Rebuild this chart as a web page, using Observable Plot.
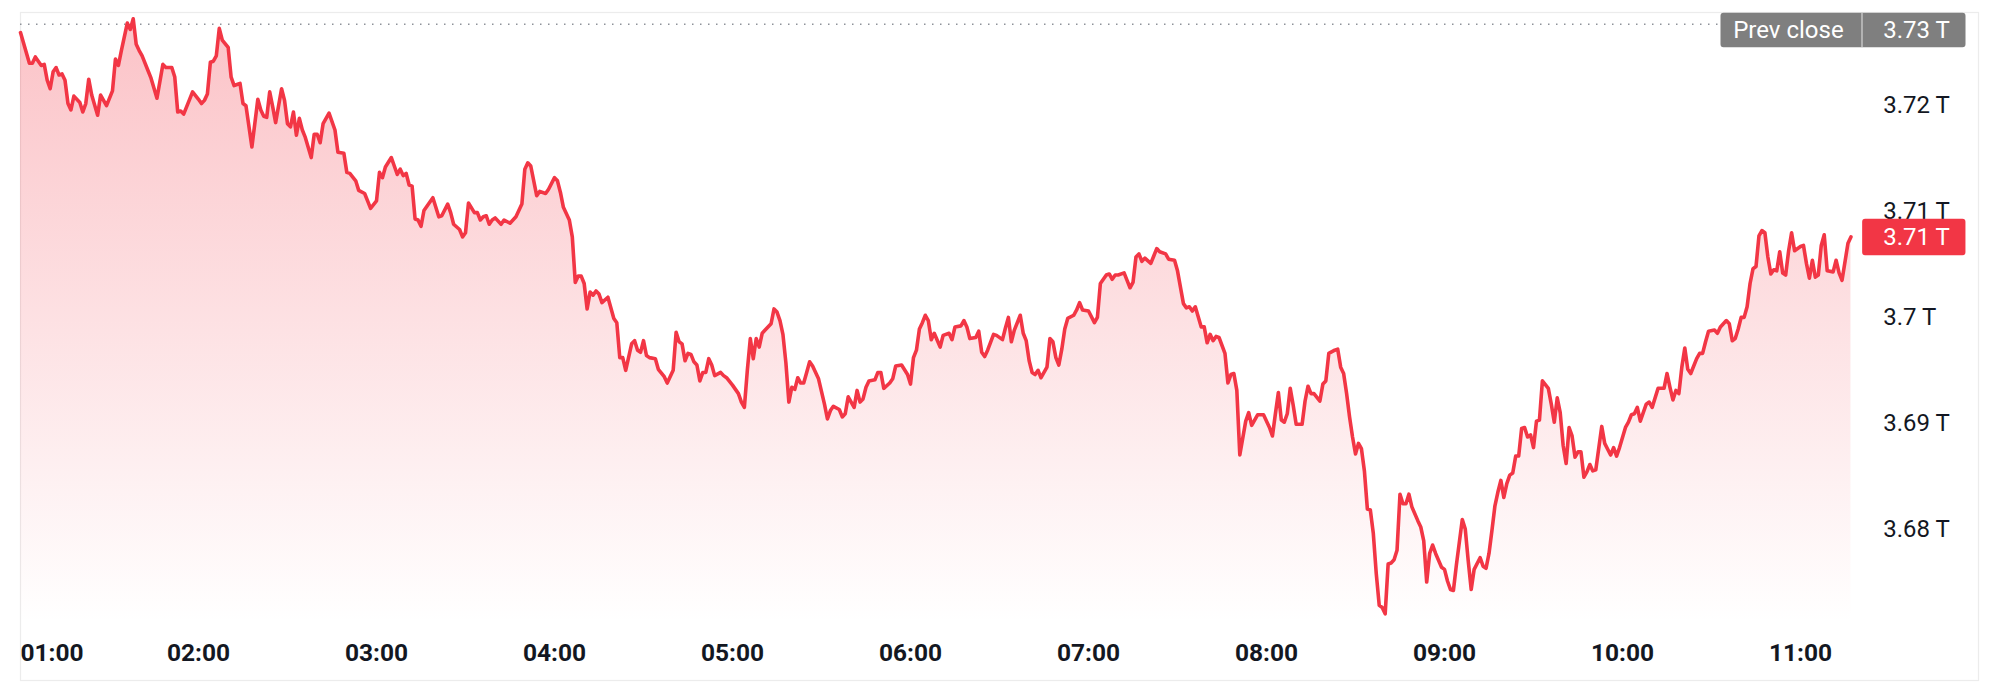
<!DOCTYPE html>
<html>
<head>
<meta charset="utf-8">
<script src="https://cdn.jsdelivr.net/npm/d3@7"></script>
<script src="https://cdn.jsdelivr.net/npm/@observablehq/plot@0.6"></script>
<style>
  html, body { margin: 0; padding: 0; background: #ffffff; }
  #chart svg { display: block; }
</style>
</head>
<body>
<div id="chart"></div>
<script>
// ---- data ----
const sessionStart = "01:00";
const sessionEnd = "12:00";
const unit = "T";
// minutes after 01:00
const minutesSinceStart = [
  0,3,4,5,7,8,9,10,11,12,
  13,14,15,16,17,18,20,21,22,23,
  24,26,27,29,31,32,33,34,36,37,
  38,39,40,41,43,44,46,48,49,51,
  52,53,54,55,57,58,60,61,62,63,
  64,65,66,67,68,70,71,72,73,74,
  75,76,78,80,81,82,83,84,85,86,
  88,89,90,91,92,93,94,95,96,98,
  99,100,101,102,104,106,107,109,110,111,
  113,114,116,117,118,120,121,122,123,125,
  126,127,128,129,130,131,132,133,134,135,
  136,138,139,141,142,144,145,146,148,149,
  150,151,153,154,155,156,157,158,159,160,
  162,163,165,167,169,170,171,172,174,175,
  177,178,180,181,182,183,185,186,187,188,
  189,190,191,192,193,194,195,196,198,200,
  201,202,203,204,206,207,208,209,210,211,
  212,214,215,217,218,220,221,222,223,224,
  225,226,227,228,229,230,231,232,233,234,
  236,237,238,240,241,242,243,244,245,246,
  247,248,249,250,251,253,254,255,256,257,
  258,259,260,261,262,263,264,265,266,267,
  269,271,272,273,274,276,277,278,279,281,
  282,283,284,285,286,288,289,290,291,293,
  294,295,297,299,300,301,302,303,304,305,
  306,307,308,310,311,313,314,315,317,318,
  319,320,322,323,324,325,326,328,329,331,
  332,333,334,335,337,338,339,340,341,342,
  343,344,346,347,348,349,350,351,352,353,
  355,356,357,358,360,362,363,364,366,367,
  368,369,370,372,373,374,375,376,377,378,
  379,381,382,383,384,386,387,389,390,392,
  393,394,395,396,398,399,400,401,402,403,
  404,406,407,408,409,410,411,413,414,415,
  417,419,421,422,423,424,425,426,427,428,
  429,430,432,433,434,435,436,438,439,440,
  441,443,444,445,446,447,448,449,450,451,
  452,453,454,455,456,457,458,459,460,461,
  462,463,464,465,466,467,468,469,471,472,
  473,474,475,476,477,479,480,481,482,483,
  484,486,487,488,489,490,492,493,494,495,
  496,497,498,499,500,501,502,503,504,505,
  506,507,508,509,510,511,512,513,515,516,
  517,518,519,520,521,522,523,524,525,526,
  527,528,529,530,531,533,534,536,537,538,
  539,541,542,543,544,545,546,548,549,550,
  552,554,555,556,557,558,559,560,561,562,
  563,565,566,567,568,569,571,572,573,575,
  576,577,578,579,580,581,582,583,584,585,
  586,587,588,589,590,591,592,593,594,595,
  596,597,598,600,601,602,603,604,605,606,
  607,608,609,611,612,613,614,616,617
];
// market cap, trillions
const marketCapT = [
  3.7269,3.7240,3.7240,3.7246,3.7238,3.7239,3.7224,3.7216,3.7232,3.7236,
  3.7229,3.7230,3.7224,3.7202,3.7196,3.7209,3.7203,3.7194,3.7202,3.7225,
  3.7210,3.7191,3.7210,3.7200,3.7214,3.7244,3.7238,3.7252,3.7278,3.7272,
  3.7282,3.7258,3.7252,3.7247,3.7233,3.7226,3.7207,3.7239,3.7236,3.7236,
  3.7227,3.7194,3.7195,3.7192,3.7206,3.7213,3.7206,3.7202,3.7205,3.7211,
  3.7241,3.7242,3.7247,3.7273,3.7262,3.7255,3.7227,3.7219,3.7220,3.7221,
  3.7202,3.7200,3.7161,3.7206,3.7196,3.7190,3.7189,3.7213,3.7199,3.7184,
  3.7216,3.7205,3.7183,3.7180,3.7194,3.7172,3.7188,3.7177,3.7170,3.7151,
  3.7173,3.7173,3.7165,3.7183,3.7193,3.7177,3.7156,3.7155,3.7137,3.7136,
  3.7129,3.7120,3.7117,3.7110,3.7103,3.7110,3.7137,3.7132,3.7142,3.7151,
  3.7143,3.7135,3.7140,3.7134,3.7136,3.7125,3.7124,3.7093,3.7092,3.7086,
  3.7101,3.7109,3.7113,3.7095,3.7096,3.7107,3.7099,3.7088,3.7083,3.7076,
  3.7080,3.7108,3.7099,3.7099,3.7092,3.7095,3.7096,3.7088,3.7092,3.7094,
  3.7088,3.7092,3.7089,3.7095,3.7107,3.7140,3.7146,3.7143,3.7115,3.7119,
  3.7117,3.7121,3.7132,3.7129,3.7118,3.7104,3.7092,3.7076,3.7033,3.7039,
  3.7039,3.7032,3.7008,3.7024,3.7021,3.7025,3.7022,3.7014,3.7019,3.6999,
  3.6995,3.6962,3.6962,3.6950,3.6975,3.6978,3.6969,3.6967,3.6978,3.6964,
  3.6962,3.6961,3.6951,3.6944,3.6938,3.6950,3.6986,3.6977,3.6975,3.6959,
  3.6966,3.6965,3.6958,3.6955,3.6940,3.6948,3.6948,3.6961,3.6955,3.6945,
  3.6948,3.6945,3.6943,3.6936,3.6932,3.6928,3.6920,3.6915,3.6950,3.6980,
  3.6961,3.6980,3.6972,3.6985,3.6988,3.6994,3.7008,3.7005,3.6997,3.6984,
  3.6957,3.6920,3.6934,3.6932,3.6943,3.6938,3.6938,3.6948,3.6958,3.6954,
  3.6942,3.6918,3.6904,3.6912,3.6916,3.6913,3.6906,3.6909,3.6925,3.6915,
  3.6931,3.6920,3.6923,3.6934,3.6940,3.6941,3.6948,3.6948,3.6933,3.6938,
  3.6942,3.6954,3.6955,3.6946,3.6937,3.6962,3.6969,3.6989,3.6995,3.7002,
  3.6997,3.6979,3.6985,3.6972,3.6983,3.6985,3.6979,3.6991,3.6992,3.6997,
  3.6991,3.6980,3.6981,3.6987,3.6967,3.6963,3.6969,3.6984,3.6983,3.6979,
  3.6990,3.7000,3.6977,3.6988,3.7002,3.6985,3.6978,3.6959,3.6948,3.6946,
  3.6950,3.6943,3.6953,3.6980,3.6977,3.6962,3.6955,3.6970,3.6989,3.6999,
  3.7002,3.7007,3.7014,3.7007,3.7006,3.6995,3.7000,3.7032,3.7040,3.7041,
  3.7036,3.7040,3.7040,3.7042,3.7035,3.7028,3.7033,3.7057,3.7060,3.7053,
  3.7056,3.7051,3.7058,3.7065,3.7062,3.7060,3.7055,3.7054,3.7044,3.7013,
  3.7009,3.7010,3.7006,3.7010,3.6991,3.6991,3.6976,3.6984,3.6978,3.6982,
  3.6981,3.6966,3.6938,3.6946,3.6947,3.6931,3.6870,3.6902,3.6910,3.6898,
  3.6908,3.6908,3.6896,3.6888,3.6909,3.6929,3.6903,3.6901,3.6909,3.6933,
  3.6917,3.6899,3.6899,3.6921,3.6935,3.6928,3.6928,3.6921,3.6937,3.6940,
  3.6966,3.6969,3.6970,3.6953,3.6947,3.6928,3.6906,3.6887,3.6871,3.6881,
  3.6876,3.6855,3.6819,3.6818,3.6796,3.6758,3.6728,3.6726,3.6720,3.6767,
  3.6768,3.6771,3.6780,3.6833,3.6824,3.6824,3.6833,3.6821,3.6808,3.6802,
  3.6789,3.6750,3.6777,3.6785,3.6777,3.6764,3.6762,3.6751,3.6743,3.6742,
  3.6766,3.6809,3.6800,3.6770,3.6743,3.6762,3.6773,3.6765,3.6763,3.6777,
  3.6799,3.6822,3.6835,3.6846,3.6830,3.6843,3.6851,3.6853,3.6869,3.6869,
  3.6895,3.6896,3.6887,3.6889,3.6877,3.6902,3.6903,3.6940,3.6933,3.6918,
  3.6901,3.6924,3.6910,3.6879,3.6862,3.6896,3.6888,3.6868,3.6873,3.6873,
  3.6849,3.6854,3.6861,3.6855,3.6856,3.6897,3.6881,3.6870,3.6877,3.6869,
  3.6877,3.6896,3.6901,3.6908,3.6909,3.6915,3.6902,3.6918,3.6920,3.6915,
  3.6933,3.6933,3.6947,3.6934,3.6922,3.6931,3.6928,3.6953,3.6971,3.6951,
  3.6947,3.6961,3.6966,3.6966,3.6977,3.6987,3.6988,3.6985,3.6991,3.6997,
  3.6994,3.6978,3.6980,3.6989,3.7000,3.7000,3.7010,3.7032,3.7046,3.7048,
  3.7077,3.7082,3.7080,3.7057,3.7041,3.7045,3.7044,3.7062,3.7042,3.7040,
  3.7063,3.7080,3.7063,3.7067,3.7068,3.7051,3.7037,3.7054,3.7038,3.7040,
  3.7068,3.7078,3.7044,3.7043,3.7054,3.7042,3.7035,3.7070,3.7076
];
const prevClose = 3.7277;
const xTickLabels = ["01:00","02:00","03:00","04:00","05:00","06:00","07:00","08:00","09:00","10:00","11:00"];
const yTicks = [3.68, 3.69, 3.70, 3.71, 3.72];
const yDomain = [3.6657, 3.7288];
const areaBase = 3.6711;
const prevCloseLabel = "Prev close";

// ---- build ----
const toDate = s => { const [h, m] = s.split(":").map(Number); return new Date(Date.UTC(2024, 0, 1, h, m)); };
const t0 = toDate(sessionStart);
const data = minutesSinceStart.map((m, i) => ({t: new Date(+t0 + m * 60000), v: marketCapT[i]}));
const last = data[data.length - 1];
const fmtLabel = v => `${v.toFixed(2)} ${unit}`;
const fmtTick = v => `${+v.toFixed(2)} ${unit}`;
const hhmm = d3.utcFormat("%H:%M");
const xTicks = xTickLabels.map(toDate);

const roundBox = (w, h, r) => ({
  draw(ctx) {
    const x0 = -w / 2, x1 = w / 2, y0 = -h / 2, y1 = h / 2;
    ctx.moveTo(x0 + r, y0);
    ctx.lineTo(x1 - r, y0);
    if (r) ctx.arcTo(x1, y0, x1, y0 + r, r);
    ctx.lineTo(x1, y1 - r);
    if (r) ctx.arcTo(x1, y1, x1 - r, y1, r);
    ctx.lineTo(x0 + r, y1);
    if (r) ctx.arcTo(x0, y1, x0, y1 - r, r);
    ctx.lineTo(x0, y0 + r);
    if (r) ctx.arcTo(x0, y0, x0 + r, y0, r);
    ctx.closePath();
  }
});

const font = "Roboto, 'Liberation Sans', Arial, sans-serif";
const ink = "#131722";
const red = "#f23645";
const grey = "#7f7f7f";

const chart = Plot.plot({
  width: 1999,
  height: 696,
  marginLeft: 20,
  marginRight: 21,
  marginTop: 12,
  marginBottom: 16,
  style: {fontFamily: font, background: "#ffffff", color: ink, overflow: "visible"},
  x: {type: "utc", domain: [toDate(sessionStart), toDate(sessionEnd)]},
  y: {domain: yDomain},
  marks: [
    Plot.frame({stroke: "#ececec", strokeWidth: 1.2}),
    Plot.areaY(data, {x: "t", y1: areaBase, y2: "v", fill: "url(#capFade)"}),
    Plot.ruleY([prevClose], {stroke: "#8e9299", strokeWidth: 1.5, strokeDasharray: "1.5,6.5", insetRight: 258}),
    Plot.line(data, {x: "t", y: "v", stroke: red, strokeWidth: 3.6, strokeLinejoin: "round", strokeLinecap: "round"}),
    Plot.axisY(yTicks, {anchor: "right", tickSize: 0, tickPadding: 0, dx: -95.3, textAnchor: "start",
      fontSize: 24, fill: ink, tickFormat: fmtTick, label: null}),
    Plot.axisX(xTicks.slice(0, 1), {anchor: "bottom", tickSize: 0, tickPadding: 0, textAnchor: "start", lineAnchor: "middle",
      dy: -27.5, fontSize: 24.5, fontWeight: 700, fill: ink, tickFormat: hhmm, label: null}),
    Plot.axisX(xTicks.slice(1), {anchor: "bottom", tickSize: 0, tickPadding: 0, lineAnchor: "middle",
      dy: -27.5, fontSize: 24.5, fontWeight: 700, fill: ink, tickFormat: hhmm, label: null}),
    // prev close label, clamped to the top of the pane
    Plot.dot([prevClose], {y: () => yDomain[1], frameAnchor: "right", symbol: roundBox(245, 34.4, 3),
      fill: grey, stroke: "none", dx: -135.5, dy: 17.5}),
    Plot.dot([prevClose], {y: () => yDomain[1], frameAnchor: "right", symbol: roundBox(1.2, 34.4, 0),
      fill: "#d6d6d6", stroke: "none", dx: -116.5, dy: 17.5}),
    Plot.text([prevClose], {y: () => yDomain[1], frameAnchor: "right", text: () => prevCloseLabel, textAnchor: "start",
      dx: -245.3, dy: 18, fill: "#ffffff", fontSize: 24}),
    Plot.text([prevClose], {y: () => yDomain[1], frameAnchor: "right", text: d => fmtLabel(d), textAnchor: "start",
      dx: -95.3, dy: 18, fill: "#ffffff", fontSize: 24}),
    // last value label
    Plot.dot([last], {y: "v", frameAnchor: "right", symbol: roundBox(103.3, 36.6, 3), fill: red, stroke: "none", dx: -64.7}),
    Plot.text([last], {y: "v", frameAnchor: "right", text: d => fmtLabel(d.v), textAnchor: "start",
      dx: -95.3, fill: "#ffffff", fontSize: 24})
  ]
});

const defs = d3.select(chart).insert("defs", ":first-child");
const grad = defs.append("linearGradient").attr("id", "capFade")
  .attr("x1", 0).attr("x2", 0).attr("y1", 0).attr("y2", 1);
grad.append("stop").attr("offset", 0).attr("stop-color", red).attr("stop-opacity", 0.3);
grad.append("stop").attr("offset", 1).attr("stop-color", red).attr("stop-opacity", 0);

document.getElementById("chart").append(chart);
</script>
</body>
</html>
